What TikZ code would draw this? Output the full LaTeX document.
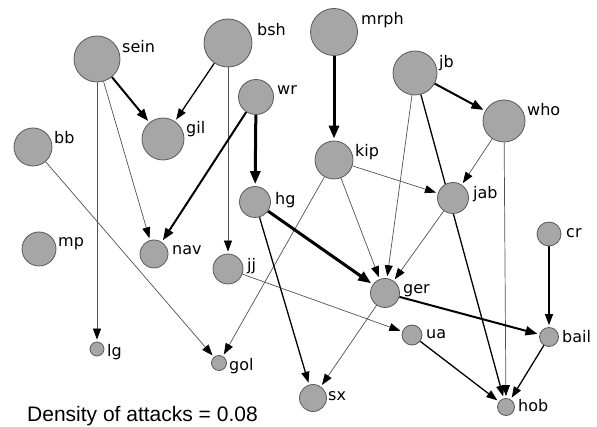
\documentclass[tikz,border=0pt]{standalone}
\usepackage{fontspec}
\newfontfamily\lbfont{DejaVu Sans}
\newfontfamily\txfont{Liberation Sans}
\usetikzlibrary{arrows.meta,backgrounds}
\tikzset{
  nd/.style={circle, draw=black!65, fill=black!35, line width=0.8pt, inner sep=0pt, minimum size=#1},
  lb/.style={anchor=base west, inner sep=0pt, font=\lbfont\fontsize{16pt}{18pt}\selectfont},
  ebase/.style={shorten >=2pt, -{Triangle[length=11pt,width=8pt,color=black]}},
  ethin/.style={ebase, draw=black!68, line width=0.7pt},
  emed/.style={ebase, draw=black, line width=1.3pt},
  ebold/.style={ebase, draw=black, line width=2pt, -{Triangle[length=12pt,width=9pt]}},
  ethick/.style={ebase, draw=black, line width=3pt, -{Triangle[length=13pt,width=10pt]}},
}
\begin{document}
\begin{tikzpicture}[x=1pt,y=-1pt]
\path[use as bounding box] (0,0) rectangle (597,427);
% nodes
\node[nd=46pt] (sein) at (97,59) {};
\node[nd=48pt] (bsh) at (228,43) {};
\node[nd=35pt] (wr) at (256,97) {};
\node[nd=42pt] (gil) at (163,139) {};
\node[nd=38pt] (bb) at (33,147) {};
\node[nd=31pt] (hg) at (255,202) {};
\node[nd=47pt] (mrph) at (334,32) {};
\node[nd=44pt] (jb) at (415,73) {};
\node[nd=42pt] (who) at (504,121) {};
\node[nd=38pt] (kip) at (334,160) {};
\node[nd=31pt] (jab) at (453,198) {};
\node[nd=34pt] (mp) at (39,249) {};
\node[nd=28pt] (nav) at (154,254) {};
\node[nd=30pt] (jj) at (228,269) {};
\node[nd=14pt] (lg) at (97,349) {};
\node[nd=15pt] (gol) at (219,363) {};
\node[nd=29pt] (ger) at (385,293) {};
\node[nd=24pt] (cr) at (549,234) {};
\node[nd=20pt] (ua) at (412,335) {};
\node[nd=19pt] (bail) at (549,337) {};
\node[nd=27pt] (sx) at (313,398) {};
\node[nd=17pt] (hob) at (506,407) {};
% labels
\node[lb] (lsein) at (122,53) {sein};
\node[lb] (lbsh) at (257,36) {bsh};
\node[lb] (lwr) at (277,95) {wr};
\node[lb] (lgil) at (186,134) {gil};
\node[lb] (lbb) at (54,144) {bb};
\node[lb] (lhg) at (275,205) {hg};
\node[lb] (lmrph) at (361,25) {mrph};
\node[lb] (ljb) at (439,68) {jb};
\node[lb] (lwho) at (527,116) {who};
\node[lb] (lkip) at (355,157) {kip};
\node[lb] (ljab) at (473,199) {jab};
\node[lb] (lmp) at (58,247) {mp};
\node[lb] (lnav) at (172,255) {nav};
\node[lb] (ljj) at (247,271) {jj};
\node[lb] (llg) at (107,357) {lg};
\node[lb] (lgol) at (229,371) {gol};
\node[lb] (lger) at (403,294) {ger};
\node[lb] (lcr) at (566,238) {cr};
\node[lb] (lua) at (426,339) {ua};
\node[lb] (lbail) at (562,343) {bail};
\node[lb] (lsx) at (328,400) {sx};
\node[lb] (lhob) at (518,412) {hob};
\node[anchor=base west, inner sep=0pt, font=\txfont\fontsize{21pt}{24pt}\selectfont] (dens) at (27,421) {Density of attacks = 0.08};
% edges
\begin{pgfonlayer}{background}
\draw[ebold] (sein) -- (gil);
\draw[emed] (bsh) -- (gil);
\draw[ethin] (sein) -- (lg);
\draw[ethin] (sein) -- (nav);
\draw[ethin] (bsh) -- (jj);
\draw[ebold] (wr) -- (nav);
\draw[ethick] (wr) -- (hg);
\draw[ethin] (bb) -- (gol);
\draw[ethick] (mrph) -- (kip);
\draw[ebold] (jb) -- (who);
\draw[ethin] (jb) -- (ger);
\draw[emed] (jb) -- (hob);
\draw[ethin] (who) -- (jab);
\draw[ethin] (who) -- (hob);
\draw[ethin] (kip) -- (jab);
\draw[ethin] (kip) -- (ger);
\draw[ethin] (kip) -- (gol);
\draw[ethin] (jab) -- (ger);
\draw[ethick] (hg) -- (ger);
\draw[emed] (hg) -- (sx);
\draw[ethin] (ger) -- (sx);
\draw[ebold] (ger) -- (bail);
\draw[ethin] (jj) -- (ua);
\draw[emed] (ua) -- (hob);
\draw[emed] (cr) -- (bail);
\draw[emed] (bail) -- (hob);
\end{pgfonlayer}
\end{tikzpicture}
\end{document}
